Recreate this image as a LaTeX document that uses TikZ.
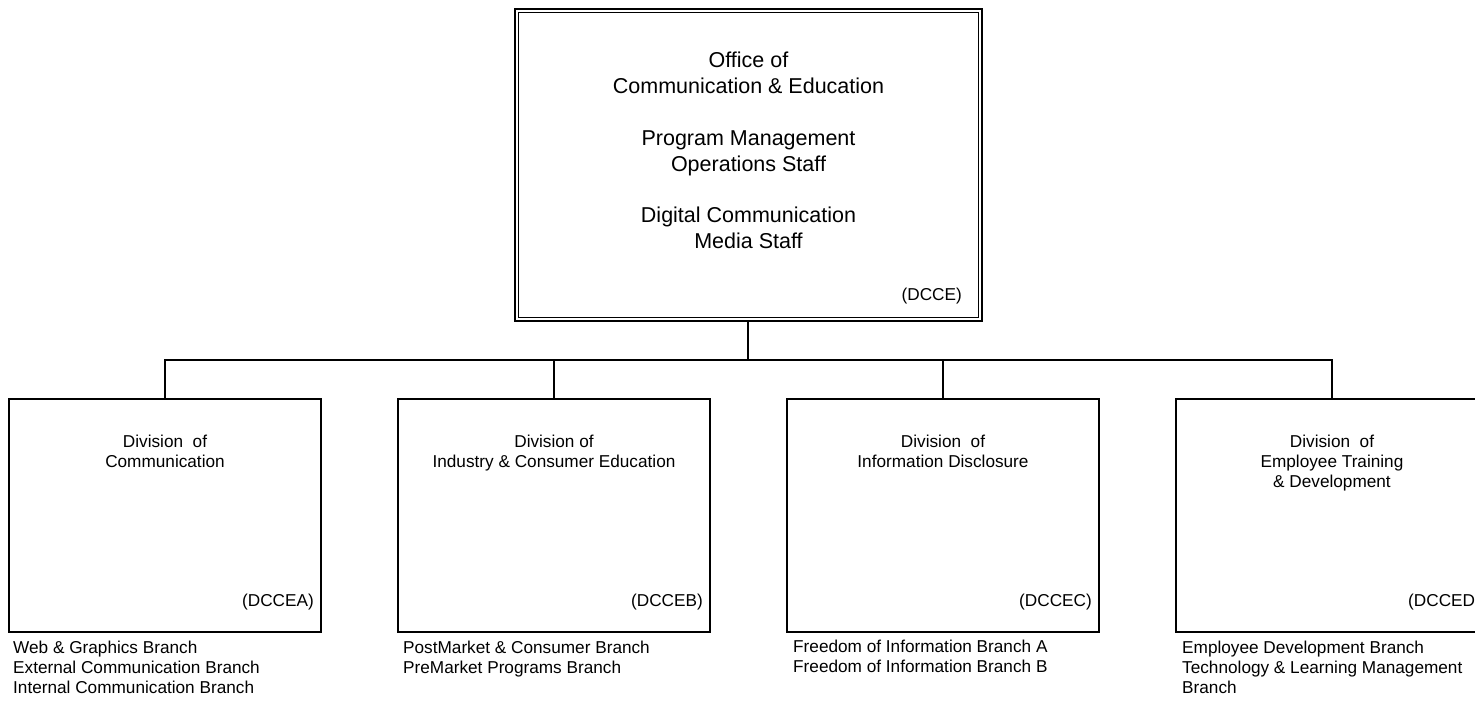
\documentclass[tikz,border=0pt]{standalone}
\usepackage{fontspec}
\setmainfont{Liberation Sans}
\begin{document}
\begin{tikzpicture}[x=1pt,y=-1pt,
  box/.style={draw, line width=1.4pt, inner sep=0pt, minimum width=312pt, minimum height=233pt},
  topbox/.style={draw, line width=2pt, inner sep=0pt, minimum width=467pt, minimum height=312pt},
  innerline/.style={line width=1.3pt},
  big/.style={font=\fontsize{21.5}{26}\selectfont, inner sep=0pt, anchor=base},
  small/.style={font=\fontsize{17.2}{20}\selectfont, inner sep=0pt, anchor=base},
  smallr/.style={small, anchor=base east},
  smalll/.style={small, anchor=base west},
  link/.style={line width=1.5pt}]
\useasboundingbox (0,0) rectangle (1475,701);
\clip (0,0) rectangle (1475,701);

% top box
\node[topbox] (top) at (748.5,165) {};
\draw[innerline] ([shift={(4.5pt,-4.5pt)}]top.north west) rectangle ([shift={(-4.5pt,4.5pt)}]top.south east);
\node[big] (t1) at (748.5,67) {Office of};
\node[big] (t2) at (748.5,93) {Communication \& Education};
\node[big] (t3) at (748.5,145) {Program Management};
\node[big] (t4) at (748.5,171) {Operations Staff};
\node[big] (t5) at (748.5,222) {Digital Communication};
\node[big] (t6) at (748.5,248) {Media Staff};
\node[smallr] (tc) at (962,300) {(DCCE)};

% division boxes
\node[box] (A) at (165,515.5) {};
\node[box] (B) at (554,515.5) {};
\node[box] (C) at (943,515.5) {};
\node[box] (D) at (1332,515.5) {};

% headings
\node[small] (a1) at (165,447) {Division\ \ of};
\node[small] (a2) at (165,467) {Communication};
\node[small] (b1) at (554,447) {Division of};
\node[small] (b2) at (554,467) {Industry \& Consumer Education};
\node[small] (c1) at (943,447) {Division\ \ of};
\node[small] (c2) at (943,467) {Information Disclosure};
\node[small] (d1) at (1332,447) {Division\ \ of};
\node[small] (d2) at (1332,467) {Employee Training};
\node[small] (d3) at (1332,487) {\& Development};

% codes
\node[smallr] (ac) at (314,606) {(DCCEA)};
\node[smallr] (bc) at (703,606) {(DCCEB)};
\node[smallr] (cc) at (1092,606) {(DCCEC)};
\node[smallr] (dc) at (1481,606) {(DCCED)};

% branches
\node[smalll] (ab1) at (13,653) {Web \& Graphics Branch};
\node[smalll] (ab2) at (13,673) {External Communication Branch};
\node[smalll] (ab3) at (13,693) {Internal Communication Branch};
\node[smalll] (bb1) at (403,653) {PostMarket \& Consumer Branch};
\node[smalll] (bb2) at (403,673) {PreMarket Programs Branch};
\node[smalll] (cb1) at (793,652) {Freedom of Information Branch A};
\node[smalll] (cb2) at (793,672) {Freedom of Information Branch B};
\node[smalll] (db1) at (1182,653) {Employee Development Branch};
\node[smalll] (db2) at (1182,673) {Technology \& Learning Management};
\node[smalll] (db3) at (1182,693) {Branch};

% connectors
\coordinate (jn) at (748,360);
\draw[link] (jn |- top.south) -- (jn);
\draw[link] (A.north) |- (jn);
\draw[link] (B.north) |- (jn);
\draw[link] (C.north) |- (jn);
\draw[link] (D.north) |- (jn);
\end{tikzpicture}
\end{document}
